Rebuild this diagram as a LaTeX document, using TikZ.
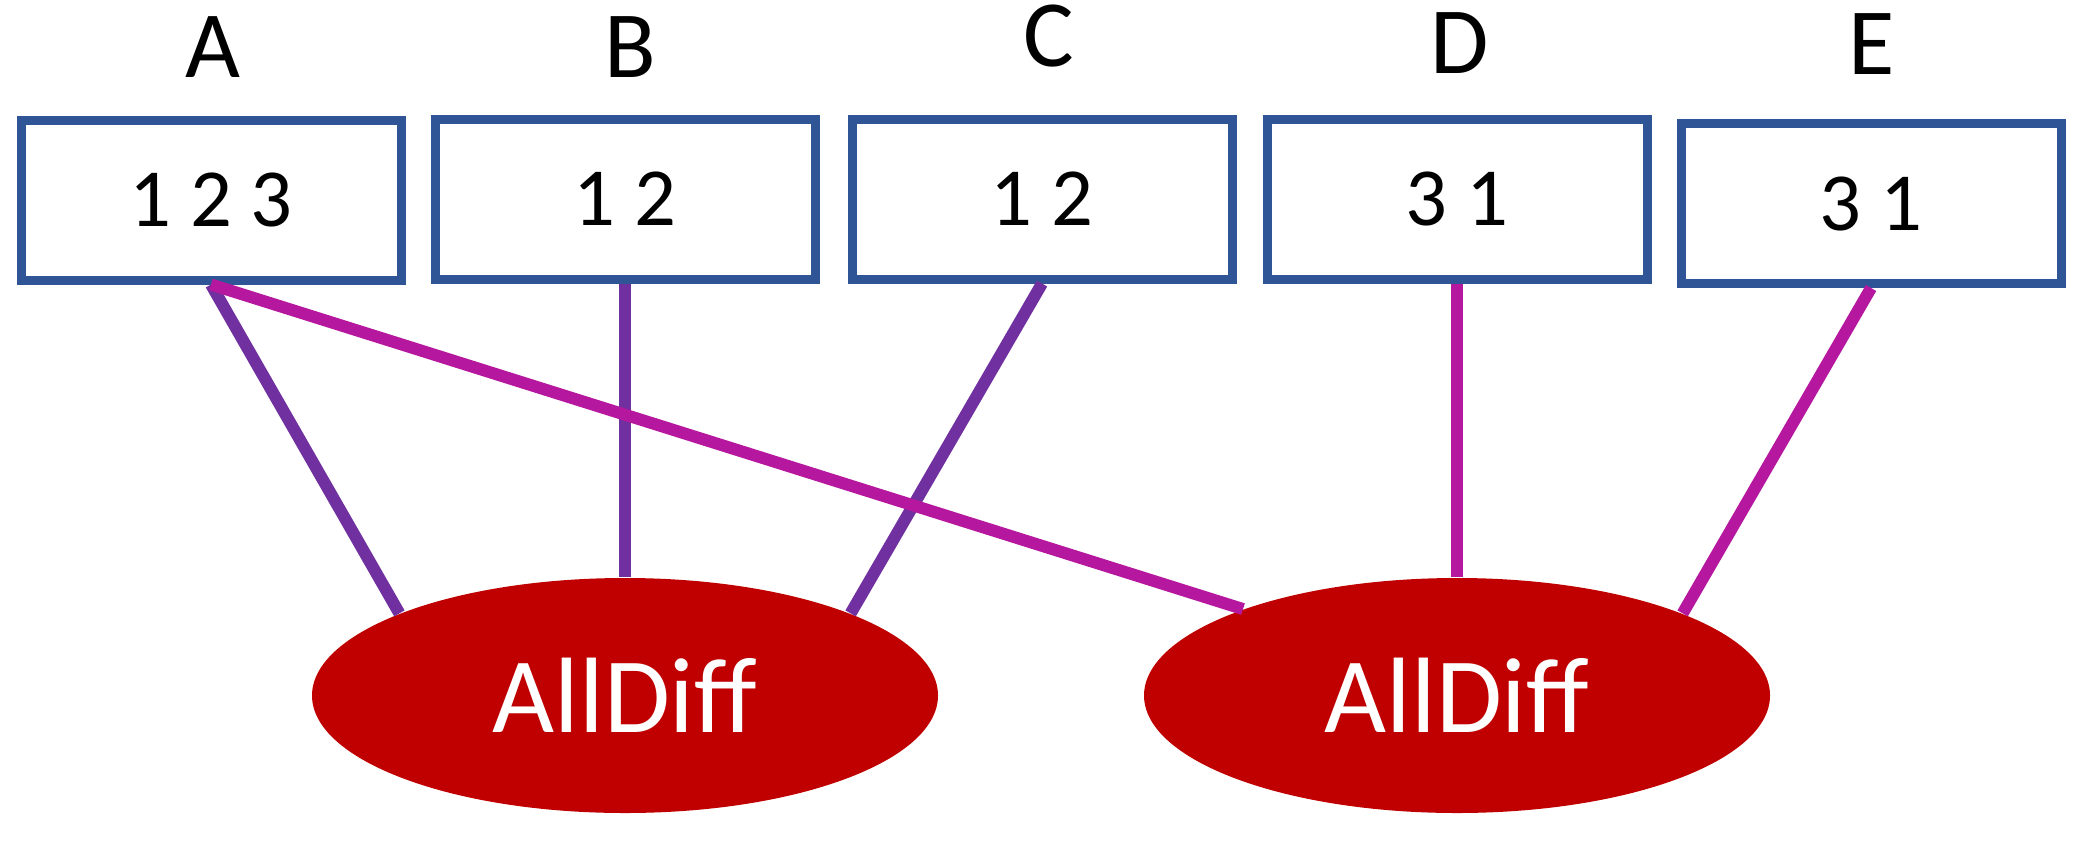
\documentclass[tikz,border=0pt]{standalone}
\usepackage{fontspec}
\setmainfont{Carlito}
\usetikzlibrary{shapes.geometric}
\definecolor{boxblue}{HTML}{2F5597}
\definecolor{cred}{HTML}{C00000}
\definecolor{cpurple}{HTML}{7030A0}
\definecolor{cmagenta}{HTML}{B5179E}

\begin{document}
\begin{tikzpicture}[varname/.style={anchor=base, inner sep=0pt, font=\fontsize{27pt}{32pt}\selectfont},
	dombox/.style={draw=boxblue, line width=0.9mm, minimum width=3.80cm, minimum height=1.6cm, inner sep=0pt, font=\fontsize{23.5pt}{28pt}\selectfont},
	alldiff/.style={ellipse, fill=cred, text=white, minimum width=6.26cm, minimum height=2.35cm, inner sep=0pt, font=\fontsize{30.5pt}{36pt}\selectfont},
	purpleline/.style={cpurple, line width=1.2mm},
	magentaline/.style={cmagenta, line width=1.2mm}]
	\useasboundingbox (0,0) rectangle (20.82,-8.40);
	% variables and their domains
	\node[dombox] (A) at (2.11,-2.00) {1 2 3};
	\node[dombox] (B) at (6.25,-1.99) {1 2};
	\node[dombox] (C) at (10.42,-1.99) {1 2};
	\node[dombox] (D) at (14.57,-1.99) {3 1};
	\node[dombox] (E) at (18.71,-2.035) {3 1};
	\node[varname] (lA) at (2.13,-0.77) {A};
	\node[varname] (lB) at (6.30,-0.77) {B};
	\node[varname] (lC) at (10.49,-0.665) {C};
	\node[varname] (lD) at (14.60,-0.73) {D};
	\node[varname] (lE) at (18.72,-0.74) {E};
	% constraints
	\node[alldiff] (c1) at (6.25,-6.955) {AllDiff};
	\node[alldiff] (c2) at (14.57,-6.955) {AllDiff};
	\draw[purpleline] (A.south) -- (c1.160);
	\draw[purpleline] (B.south) -- (c1.north);
	\draw[purpleline] (C.south) -- (c1.20);
	\draw[magentaline] (A.south) -- (c2.158);
	\draw[magentaline] (D.south) -- (c2.north);
	\draw[magentaline] (E.south) -- (c2.20);
\end{tikzpicture}
\end{document}
